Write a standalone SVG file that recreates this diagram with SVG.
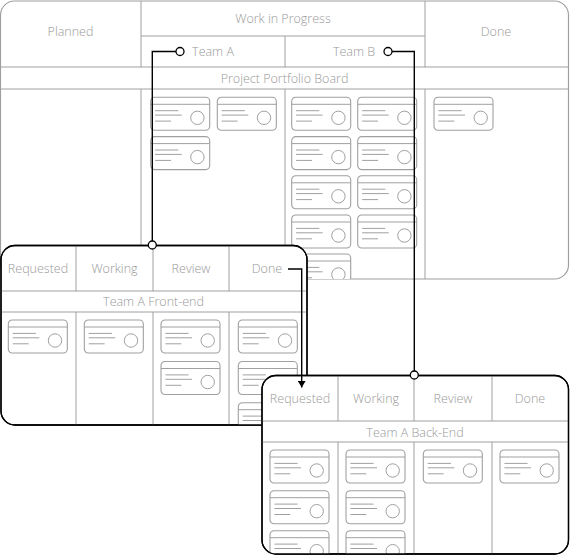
<svg xmlns="http://www.w3.org/2000/svg" xmlns:xlink="http://www.w3.org/1999/xlink" width="570" height="556" viewBox="0 0 570 556">
<style>
  .t { font-family: "Open Sans", "Liberation Sans", sans-serif; font-size: 12.5px; font-weight: 300; fill: #999999; text-anchor: middle; dominant-baseline: central; }
  .g { stroke: #a0a0a0; stroke-width: 1; fill: none; }
  .frame { fill: #ffffff; stroke: #000000; stroke-width: 1.3; }
  .mframe { fill: #ffffff; stroke: #a0a0a0; stroke-width: 1.2; }
  .cardr { fill: #ffffff; stroke: #a0a0a0; stroke-width: 1.1; }
  .conn { stroke: #000000; stroke-width: 1.4; fill: none; }
  .end { fill: #ffffff; stroke: #000000; stroke-width: 1.3; }
</style>
<defs>
  <g id="card">
    <rect class="cardr" x="0" y="0" width="59" height="33" rx="4"/>
    <path class="g" d="M0,7H59M4.4,13.4H27.6M4.4,17.8H31M4.4,23.8H20.3"/>
    <circle class="g" cx="46.7" cy="20.5" r="6.7"/>
  </g>
  <clipPath id="cpMain"><rect x="0.5" y="1" width="568" height="278" rx="14"/></clipPath>
  <clipPath id="cpFront"><rect x="1" y="245.5" width="306" height="179.5" rx="14"/></clipPath>
  <clipPath id="cpBack"><rect x="262" y="375.5" width="306.5" height="178.5" rx="14"/></clipPath>
  <marker id="arr" viewBox="0 0 7 8.4" refX="7" refY="4.2" markerWidth="7" markerHeight="8.4" markerUnits="userSpaceOnUse" orient="auto">
    <path d="M0,0L7,4.2L0,8.4Z" fill="#000"/>
  </marker>
</defs>

<g id="portfolio-board">
  <rect class="mframe" x="0.5" y="1" width="568" height="278" rx="14"/>
  <g clip-path="url(#cpMain)">
    <path class="g" d="M141,1V67M141,89V279M285,36V67M285,89V279M425,1V67M425,89V279M141,36H425M0,67H569M0,89H569"/>
    <use xlink:href="#card" x="150.7" y="97.3"/>
    <use xlink:href="#card" x="217.3" y="97.3"/>
    <use xlink:href="#card" x="150.7" y="136.6"/>
    <use xlink:href="#card" x="291.7" y="97.3"/>
    <use xlink:href="#card" x="357.7" y="97.3"/>
    <use xlink:href="#card" x="291.7" y="136.6"/>
    <use xlink:href="#card" x="357.7" y="136.6"/>
    <use xlink:href="#card" x="291.7" y="175.8"/>
    <use xlink:href="#card" x="357.7" y="175.8"/>
    <use xlink:href="#card" x="291.7" y="215"/>
    <use xlink:href="#card" x="357.7" y="215"/>
    <use xlink:href="#card" x="291.7" y="254"/>
    <use xlink:href="#card" x="434" y="97.3"/>
  </g>
  <text class="t" x="70.5" y="31">Planned</text>
  <text class="t" x="283" y="18">Work in Progress</text>
  <text class="t" x="213" y="51">Team A</text>
  <text class="t" x="354" y="51">Team B</text>
  <text class="t" x="496" y="31">Done</text>
  <text class="t" x="284.5" y="78">Project Portfolio Board</text>
</g>

<g id="front-end-board">
  <rect class="frame" x="1" y="245.5" width="306" height="179.5" rx="14"/>
  <g clip-path="url(#cpFront)">
    <path class="g" d="M76,245V291M76,312V425M153,245V291M153,312V425M229,245V291M229,312V425M0,291H308M0,312H308"/>
    <use xlink:href="#card" x="8.3" y="320"/>
    <use xlink:href="#card" x="84.3" y="320"/>
    <use xlink:href="#card" x="161" y="320"/>
    <use xlink:href="#card" x="161" y="361.5"/>
    <use xlink:href="#card" x="238.3" y="320"/>
    <use xlink:href="#card" x="238.3" y="361.5"/>
    <use xlink:href="#card" x="238.3" y="402.7"/>
  </g>
  <rect x="1" y="245.5" width="306" height="179.5" rx="14" fill="none" stroke="#000" stroke-width="1.3"/>
  <text class="t" x="38" y="268">Requested</text>
  <text class="t" x="114.5" y="268">Working</text>
  <text class="t" x="191" y="268">Review</text>
  <text class="t" x="267" y="268">Done</text>
  <text class="t" x="153.5" y="301.5">Team A Front-end</text>
</g>

<g id="back-end-board">
  <rect class="frame" x="262" y="375.5" width="306.5" height="178.5" rx="14"/>
  <g clip-path="url(#cpBack)">
    <path class="g" d="M338,375V421M338,442V555M414,375V421M414,442V555M492,375V421M492,442V555M261,421H570M261,442H570"/>
    <use xlink:href="#card" x="270" y="450"/>
    <use xlink:href="#card" x="270" y="490.7"/>
    <use xlink:href="#card" x="270" y="530.7"/>
    <use xlink:href="#card" x="346" y="450"/>
    <use xlink:href="#card" x="346" y="490.7"/>
    <use xlink:href="#card" x="346" y="530.7"/>
    <use xlink:href="#card" x="423.3" y="450"/>
    <use xlink:href="#card" x="500" y="450"/>
  </g>
  <rect x="262" y="375.5" width="306.5" height="178.5" rx="14" fill="none" stroke="#000" stroke-width="1.3"/>
  <text class="t" x="300" y="398">Requested</text>
  <text class="t" x="376" y="398">Working</text>
  <text class="t" x="453" y="398">Review</text>
  <text class="t" x="530" y="398">Done</text>
  <text class="t" x="415" y="432">Team A Back-End</text>
</g>

<g id="connectors">
  <path class="conn" d="M176,51.5H152.3V241"/>
  <circle class="end" cx="180" cy="51.5" r="4"/>
  <circle class="end" cx="152.3" cy="245" r="4"/>
  <path class="conn" d="M392,51.5H414.3V371"/>
  <circle class="end" cx="388" cy="51.5" r="4"/>
  <circle class="end" cx="414.3" cy="375" r="4"/>
  <path class="conn" d="M288,269H301.7V387.5" marker-end="url(#arr)"/>
</g>
</svg>
